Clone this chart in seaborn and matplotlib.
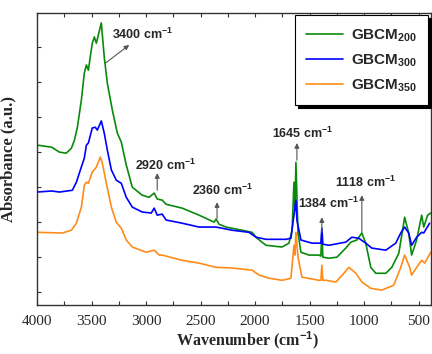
import numpy as np
import pandas as pd
import matplotlib
matplotlib.use("Agg")
import matplotlib.pyplot as plt
import seaborn as sns

# wavenumber (cm-1) / absorbance (a.u.)
wn_200 = [4000, 3866, 3796, 3733, 3686, 3658, 3631, 3594, 3567, 3548, 3530, 3494, 3475,
          3457, 3411, 3384, 3356, 3310, 3264, 3228, 3182, 3127, 3036, 2972, 2926, 2898,
          2853, 2816, 2669, 2514, 2376, 2358, 2330, 2266, 2120, 2028, 1982, 1900, 1753,
          1689, 1660, 1643, 1634, 1625, 1606, 1579, 1506, 1414, 1396, 1387, 1378, 1322,
          1249, 1167, 1121, 1066, 1020, 984, 938, 892, 800, 745, 681, 627, 590, 563, 517,
          471, 452, 416, 388]
ab_200 = [4.20, 4.14, 4.00, 3.97, 4.11, 4.34, 4.71, 5.49, 6.26, 6.49, 6.34, 7.11, 7.29,
          7.11, 7.69, 6.71, 5.97, 5.20, 4.54, 4.29, 3.63, 3.00, 2.77, 2.71, 2.83, 2.66,
          2.63, 2.51, 2.40, 2.20, 2.00, 2.09, 1.94, 1.86, 1.77, 1.71, 1.54, 1.34, 1.29,
          1.40, 1.77, 3.14, 2.34, 3.71, 1.69, 1.14, 1.06, 1.06, 1.03, 1.71, 1.00, 0.97,
          1.00, 1.26, 1.43, 1.49, 1.69, 1.40, 0.71, 0.54, 0.54, 0.71, 1.11, 2.14, 1.69,
          1.06, 1.49, 2.20, 1.86, 2.20, 2.26]

wn_300 = [4000, 3866, 3796, 3677, 3640, 3613, 3567, 3548, 3530, 3494, 3466, 3448, 3411,
          3384, 3356, 3319, 3274, 3228, 3182, 3127, 3036, 2953, 2926, 2898, 2853, 2816,
          2669, 2514, 2358, 2211, 2056, 1991, 1900, 1716, 1671, 1643, 1625, 1616, 1579,
          1478, 1396, 1387, 1378, 1322, 1167, 1112, 1048, 984, 929, 800, 709, 663, 627,
          590, 563, 517, 471, 452, 398]
ab_300 = [2.86, 2.89, 2.86, 2.91, 3.14, 3.40, 3.83, 4.20, 4.26, 4.69, 4.71, 4.63, 4.89,
          4.54, 4.06, 3.49, 3.20, 3.11, 2.71, 2.43, 2.29, 2.26, 2.40, 2.20, 2.23, 2.06,
          1.97, 1.86, 1.86, 1.77, 1.71, 1.57, 1.51, 1.51, 1.54, 2.20, 2.63, 2.06, 1.49,
          1.40, 1.40, 1.83, 1.37, 1.34, 1.43, 1.57, 1.54, 1.40, 1.26, 1.20, 1.40, 1.69,
          1.86, 1.69, 1.34, 1.57, 1.71, 1.69, 1.97]

wn_350 = [4000, 3768, 3686, 3640, 3594, 3567, 3548, 3530, 3494, 3457, 3420, 3402, 3365,
          3319, 3274, 3228, 3182, 3127, 2999, 2926, 2880, 2853, 2669, 2514, 2358, 2211,
          2028, 1964, 1872, 1753, 1707, 1671, 1643, 1634, 1625, 1606, 1570, 1414, 1396,
          1387, 1378, 1350, 1258, 1185, 1139, 1075, 1020, 938, 837, 727, 663, 627, 581,
          563, 517, 471, 443, 388]
ab_350 = [1.71, 1.69, 1.77, 1.97, 2.43, 3.06, 3.14, 3.11, 3.43, 3.57, 3.86, 3.69, 3.11,
          2.43, 2.00, 1.83, 1.49, 1.29, 1.14, 1.20, 1.06, 1.06, 0.91, 0.83, 0.71, 0.69,
          0.63, 0.49, 0.40, 0.34, 0.37, 0.40, 1.34, 1.06, 1.71, 1.00, 0.43, 0.34, 0.34,
          0.77, 0.34, 0.34, 0.29, 0.54, 0.71, 0.54, 0.29, 0.11, 0.06, 0.20, 0.71, 1.06,
          0.71, 0.49, 0.71, 0.91, 0.83, 1.14]

labels = ["GBCM$_{200}$", "GBCM$_{300}$", "GBCM$_{350}$"]
colors = ["#0a8a0a", "#0000ff", "#ff8c1a"]

# peak labels: text, text position, arrow tail, arrow head
peak_text = ["3400 cm$^{-1}$", "2920 cm$^{-1}$", "2360 cm$^{-1}$",
             "1645 cm$^{-1}$", "1384 cm$^{-1}$", "1118 cm$^{-1}$"]
peak_text_xy = [(3310, 7.37), (2824, 3.63), (2302, 2.91), (1560, 4.54), (1322, 2.54), (983, 3.14)]
arrow_tail = [(3374, 6.54), (2898, 2.91), (2349, 2.11), (1616, 3.77), (1387, 1.71), (1020, 1.71)]
arrow_head = [(3155, 7.06), (2898, 3.40), (2349, 2.57), (1616, 4.26), (1387, 2.14), (1020, 2.77)]

df = pd.concat([
    pd.DataFrame({"wn": wn_200, "ab": ab_200, "sample": labels[0]}),
    pd.DataFrame({"wn": wn_300, "ab": ab_300, "sample": labels[1]}),
    pd.DataFrame({"wn": wn_350, "ab": ab_350, "sample": labels[2]}),
])

sns.set_theme(style="ticks")
plt.rcParams["font.family"] = ["Liberation Serif", "DejaVu Serif"]
plt.rcParams["mathtext.fontset"] = "custom"
plt.rcParams["mathtext.rm"] = "Liberation Sans:bold"
plt.rcParams["mathtext.bf"] = "Liberation Sans:bold"

fig = plt.figure(figsize=(4.32, 3.54), dpi=100)
ax = fig.add_axes([0.086, 0.138, 0.911, 0.825])

sns.lineplot(data=df, x="wn", y="ab", hue="sample", palette=colors, estimator=None,
             lw=1.2, ax=ax)

ax.set_xlim(4000, 388)
ax.set_ylim(-0.37, 7.97)
ax.set_xticks([4000, 3500, 3000, 2500, 2000, 1500, 1000, 500])
ax.set_xticks(np.arange(3750, 300, -500), minor=True)
ax.set_yticks(np.arange(0, 8))
ax.set_yticklabels([])
ax.tick_params(which="both", direction="in", top=True, length=3, width=0.8,
               color="#333333", labelsize=11, pad=7)
for s in ax.spines.values():
    s.set_linewidth(1.0)
    s.set_color("#333333")

ax.set_xlabel("Wavenumber (cm$^{-1}$)", fontsize=11.5, fontweight="bold")
ax.xaxis.set_label_coords(0.535, -0.082, transform=ax.transAxes)
ax.set_ylabel("Absorbance (a.u.)", fontsize=12, fontweight="bold", labelpad=8)

for t, txy, tail, head in zip(peak_text, peak_text_xy, arrow_tail, arrow_head):
    ax.annotate("", xy=head, xytext=tail,
                arrowprops=dict(arrowstyle="-|>", color="#555555", lw=0.8,
                                mutation_scale=7, shrinkA=0, shrinkB=0))
    ax.text(txy[0], txy[1], t, family="Liberation Sans", fontweight="bold",
            fontsize=9, ha="left" if t.startswith("3400") else "center", va="center")

leg = ax.legend(loc="upper right", frameon=True, fancybox=False,
                shadow={"color": "black", "alpha": 1.0},
                prop={"family": "Liberation Sans", "weight": "bold", "size": 11},
                handlelength=2.4, labelspacing=0.55, borderaxespad=0.15,
                borderpad=0.75, handletextpad=0.5)
leg.get_frame().set_edgecolor("black")
leg.get_frame().set_linewidth(0.8)
leg.get_frame().set_alpha(1)

fig.savefig("out.png", dpi=100)
